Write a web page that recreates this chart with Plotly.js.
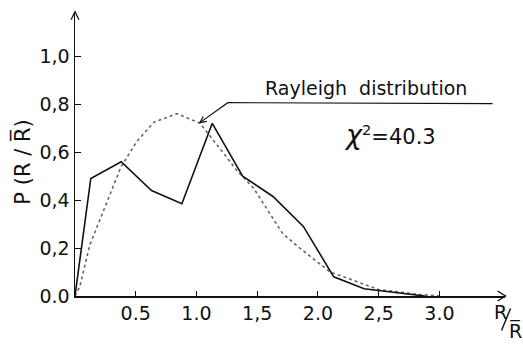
<!DOCTYPE html>
<html>
<head>
<meta charset="utf-8">
<script src="https://cdn.plot.ly/plotly-3.0.1.min.js"></script>
<style>html,body{margin:0;padding:0;background:#fff;}#chart{width:523px;height:345px;}</style>
</head>
<body>
<div id="chart"></div>
<script>
// Observed distribution P(R/R̄)
const obsX = [0.0, 0.13, 0.38, 0.63, 0.88, 1.13, 1.38, 1.63, 1.88, 2.13, 2.38, 2.63, 2.88];
const obsY = [0.0, 0.49, 0.56, 0.44, 0.385, 0.72, 0.50, 0.415, 0.29, 0.08, 0.03, 0.015, 0.0];
// Rayleigh distribution
const rayX = [0.0, 0.04, 0.12, 0.26, 0.38, 0.51, 0.65, 0.84, 1.03, 1.2, 1.33, 1.47, 1.71, 1.85, 2.1, 2.5, 2.84, 3.0];
const rayY = [0.0, 0.04, 0.21, 0.39, 0.54, 0.645, 0.725, 0.76, 0.72, 0.61, 0.525, 0.45, 0.26, 0.2, 0.1, 0.027, 0.006, 0.0];
// Tick labels
const xTickVals = [0.5, 1.0, 1.5, 2.0, 2.5, 3.0];
const xTickText = ['0.5', '1.0', '1,5', '2.0', '2,5', '3.0'];
const yTickVals = [0.0, 0.2, 0.4, 0.6, 0.8, 1.0];
const yTickText = ['0.0', '0,2', '0,4', '0,6', '0,8', '1,0'];
const chiText = '<span style="font-size:27px"><i>χ</i></span><sup>2</sup>=40.3';
const legendText = 'Rayleigh  distribution';

const XR = [0, 3.54], YR = [0, 1.18];
const PW = 121.6 * 3.54, PH = 240 * 1.18;
const M = {l: 75, r: 523 - 75 - PW, t: 296.5 - PH, b: 345 - 296.5};
// pixel -> paper helpers for placing decorations and text
const px = p => (p - 75) / PW;
const py = p => (296.5 - p) / PH;
const P = (x, y) => px(x).toFixed(5) + ',' + py(y).toFixed(5);
const pathPx = pts => 'M ' + pts.map(p => P(p[0], p[1])).join(' L ');

const FONT = 'DejaVu Sans, sans-serif';
const txt = (x, y, text, size, extra) => Object.assign({
  x: px(x), y: py(y), xref: 'paper', yref: 'paper', xanchor: 'center', yanchor: 'middle',
  text: text, showarrow: false, font: {family: FONT, size: size, color: '#111'}
}, extra || {});
const deco = (pts, w) => ({type: 'path', xref: 'paper', yref: 'paper', path: pathPx(pts), line: {color: '#111', width: w}});

const traces = [
  {x: rayX, y: rayY, mode: 'lines', line: {color: '#666', width: 1.6, dash: 'dot'}, hoverinfo: 'skip', cliponaxis: false},
  {x: obsX, y: obsY, mode: 'lines', line: {color: '#111', width: 1.6}, hoverinfo: 'skip', cliponaxis: false}
];

const layout = {
  width: 523, height: 345,
  margin: M,
  paper_bgcolor: '#fff', plot_bgcolor: '#fff',
  showlegend: false,
  font: {family: FONT, color: '#111', size: 19},
  xaxis: {
    range: XR, showgrid: false, zeroline: false, showline: true, linecolor: '#111', linewidth: 1.5,
    tickmode: 'array', tickvals: xTickVals, ticktext: xTickText, ticks: 'inside', ticklen: 5, tickcolor: '#111',
    tickfont: {family: FONT, size: 19, color: '#111'}, fixedrange: true
  },
  yaxis: {
    range: YR, showgrid: false, zeroline: false, showline: true, linecolor: '#111', linewidth: 1.5,
    tickmode: 'array', tickvals: yTickVals, ticktext: yTickText, ticks: 'inside', ticklen: 6, tickcolor: '#111',
    tickfont: {family: FONT, size: 19, color: '#111'}, fixedrange: true
  },
  shapes: [
    // axis arrowheads
    deco([[498, 291.5], [506, 296.5], [498, 301.5]], 1.4),
    deco([[71, 20], [75, 12], [79, 20]], 1.2),
    // Rayleigh pointer: leader line and arrow
    deco([[493, 104], [228, 103], [200, 123]], 1.2),
    deco([[206.9, 121.7], [200, 123], [203.4, 116.9]], 1.2),
    // slash of the R/R̄ axis label
    deco([[511, 309], [502, 331]], 1.4)
  ],
  annotations: [
    txt(366, 88, legendText, 19),
    txt(390, 135, chiText, 21),
    txt(22, 163, 'P (R / R\u0305)', 21, {textangle: -90}),
    txt(501, 313, 'R', 19),
    txt(516, 331, 'R\u0305', 19)
  ]
};

Plotly.newPlot('chart', traces, layout, {staticPlot: true, displayModeBar: false});
</script>
</body>
</html>
